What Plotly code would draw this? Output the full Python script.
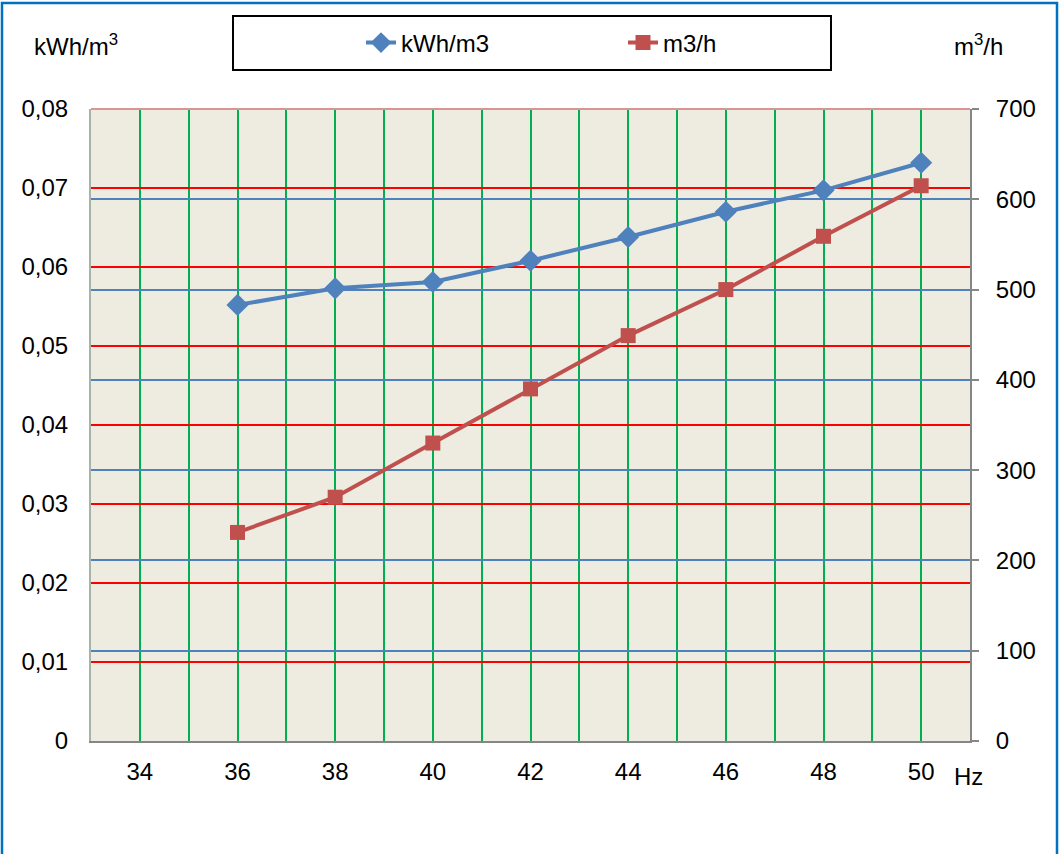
import plotly.graph_objects as go

hz = [36, 38, 40, 42, 44, 46, 48, 50]
kwh_per_m3 = [0.0552, 0.0573, 0.0581, 0.0608, 0.0638, 0.0670, 0.0697, 0.0732]
m3_per_h = [231, 270, 330, 390, 449, 500, 559, 615]

x_tickvals = [34, 36, 38, 40, 42, 44, 46, 48, 50]
y1_tickvals = [0, 0.01, 0.02, 0.03, 0.04, 0.05, 0.06, 0.07, 0.08]
y1_ticktext = ["0", "0,01", "0,02", "0,03", "0,04", "0,05", "0,06", "0,07", "0,08"]
y2_tickvals = [0, 100, 200, 300, 400, 500, 600, 700]

FONT = "Liberation Sans, Arial, sans-serif"
FS = 24

L, R, T, B = 91, 90, 109, 113
W, H = 1060, 854
PW, PH = W - L - R, H - T - B

def px_x(p):
    return (p - L) / PW

def px_y(p):
    return (H - B - p) / PH

fig = go.Figure()
fig.add_trace(go.Scatter(
    x=hz, y=kwh_per_m3, name="kWh/m3", mode="lines+markers",
    line=dict(color="#4F81BD", width=4),
    marker=dict(symbol="diamond", size=17, color="#4F81BD"),
    yaxis="y",
))
fig.add_trace(go.Scatter(
    x=hz, y=m3_per_h, name="m3/h", mode="lines+markers",
    line=dict(color="#C0504D", width=4),
    marker=dict(symbol="square", size=15, color="#C0504D"),
    yaxis="y2",
))

fig.update_layout(
    width=W, height=H,
    margin=dict(l=L, r=R, t=T, b=B, autoexpand=False),
    paper_bgcolor="white",
    plot_bgcolor="#EEECE1",
    font=dict(family=FONT, size=FS, color="black"),
    showlegend=True,
    legend=dict(
        orientation="h", x=px_x(361), y=px_y(43), xanchor="left", yanchor="middle",
        bgcolor="rgba(0,0,0,0)", borderwidth=0,
        entrywidth=217, entrywidthmode="pixels",
        font=dict(family=FONT, size=FS),
    ),
    xaxis=dict(
        range=[33, 51], tickvals=x_tickvals,
        showgrid=True, gridcolor="#00B050", gridwidth=2,
        minor=dict(tick0=33, dtick=1, showgrid=True, gridcolor="#00B050", gridwidth=2, ticks=""),
        showline=True, linecolor="#868686", linewidth=2,
        ticks="", zeroline=False, ticklabelstandoff=8,
    ),
    yaxis=dict(
        range=[0, 0.08], tickvals=y1_tickvals, ticktext=y1_ticktext,
        showgrid=True, gridcolor="#FF0000", gridwidth=2,
        showline=True, linecolor="#A6B5A6", linewidth=2,
        ticks="", zeroline=False, ticklabelstandoff=16,
    ),
    yaxis2=dict(
        range=[0, 700], tickvals=y2_tickvals, overlaying="y", side="right",
        showgrid=True, gridcolor="#4F81BD", gridwidth=1.5,
        showline=True, linecolor="#868686", linewidth=2,
        ticks="outside", ticklen=7, tickwidth=2, tickcolor="#868686",
        zeroline=False, ticklabelstandoff=12,
    ),
    shapes=[
        dict(type="line", xref="paper", yref="paper", x0=0, x1=1, y0=1, y1=1,
             line=dict(color="#D99594", width=2)),
        dict(type="rect", xref="paper", yref="paper",
             x0=px_x(233), x1=px_x(831), y0=px_y(70), y1=px_y(16),
             line=dict(color="black", width=2), fillcolor="rgba(0,0,0,0)"),
        dict(type="rect", xref="paper", yref="paper",
             x0=px_x(2), x1=px_x(1057), y0=px_y(900), y1=px_y(3),
             line=dict(color="#0070C0", width=2.5), fillcolor="rgba(0,0,0,0)"),
    ],
    annotations=[
        dict(text="kWh/m<sup>3</sup>", xref="paper", yref="paper",
             x=px_x(76), y=px_y(45), showarrow=False,
             xanchor="center", yanchor="middle", font=dict(size=FS)),
        dict(text="m<sup>3</sup>/h", xref="paper", yref="paper",
             x=px_x(979), y=px_y(45), showarrow=False,
             xanchor="center", yanchor="middle", font=dict(size=FS)),
        dict(text="Hz", xref="paper", yref="paper",
             x=px_x(968), y=px_y(776), showarrow=False,
             xanchor="center", yanchor="middle", font=dict(size=FS)),
    ],
)

fig.write_html("out.html", config={"displayModeBar": False},
               post_script="document.body.style.margin='0';")
